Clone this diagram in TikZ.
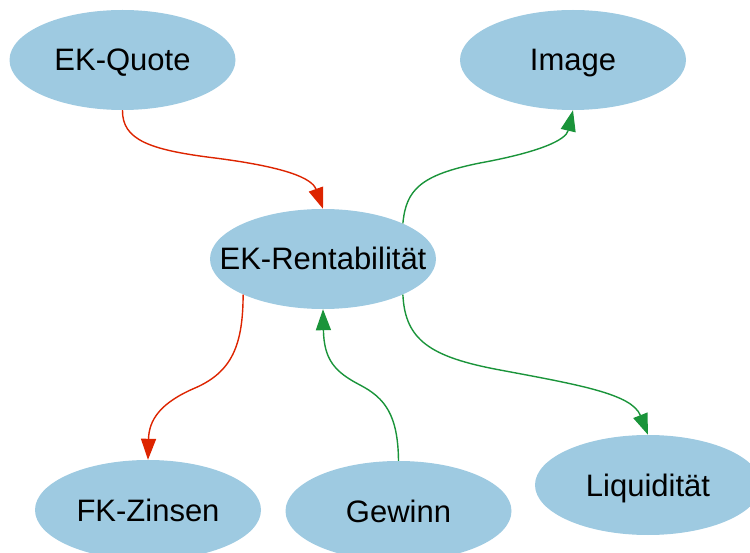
\documentclass[tikz,border=0pt]{standalone}
\usepackage{fontspec}
\setmainfont{Liberation Sans}
\usetikzlibrary{shapes.geometric,arrows.meta}
\definecolor{bubble}{RGB}{158,202,225}
\definecolor{neg}{RGB}{221,36,0}
\definecolor{pos}{RGB}{26,148,58}
\tikzset{
  factor/.style={ellipse, fill=bubble, draw=none, inner sep=0pt,
    minimum width=226pt, minimum height=100pt,
    text height=22pt, text depth=0pt,
    font=\fontsize{31}{36}\selectfont},
  link/.style={line width=1.4pt, -{Triangle[length=21pt,width=15pt]}},
  hurts/.style={link, draw=neg},
  helps/.style={link, draw=pos},
}
\newcommand{\lbl}[1]{\makebox[0pt]{#1}}
\begin{document}
\begin{tikzpicture}[x=1pt, y=-1pt]
  \useasboundingbox (0,0) rectangle (750,553);
  \clip (0,0) rectangle (750,553);

  % factors
  \node[factor] (ekq) at (122.5,60)  {\lbl{EK-Quote}};
  \node[factor] (img) at (573,60)    {\lbl{Image}};
  \node[factor] (ekr) at (323,259)   {\lbl{EK-Rentabilität}};
  \node[factor] (fkz) at (148,510)   {\lbl{FK-Zinsen}};
  \node[factor] (gew) at (398.5,511) {\lbl{Gewinn}};
  \node[factor] (liq) at (648,485)   {\lbl{Liquidität}};

  % negative influences
  \draw[hurts] (ekq.south) .. controls (122,140) and (150,150) .. (215,158)
               .. controls (285,167) and (312,178) .. (ekr.north);
  \draw[hurts] (ekr.204) .. controls (243,345) and (232,372) .. (195,388)
               .. controls (160,403) and (149,420) .. (fkz.north);

  % positive influences
  \draw[helps] (ekr.24) .. controls (406,190) and (420,175) .. (480,163)
               .. controls (540,152) and (566,140) .. (img.south);
  \draw[helps] (gew.north) .. controls (398,415) and (385,398) .. (360,385)
               .. controls (335,372) and (324,360) .. (ekr.south);
  \draw[helps] (ekr.-24) .. controls (405,340) and (430,357) .. (500,370)
               .. controls (580,385) and (632,394) .. (liq.north);
\end{tikzpicture}
\end{document}
